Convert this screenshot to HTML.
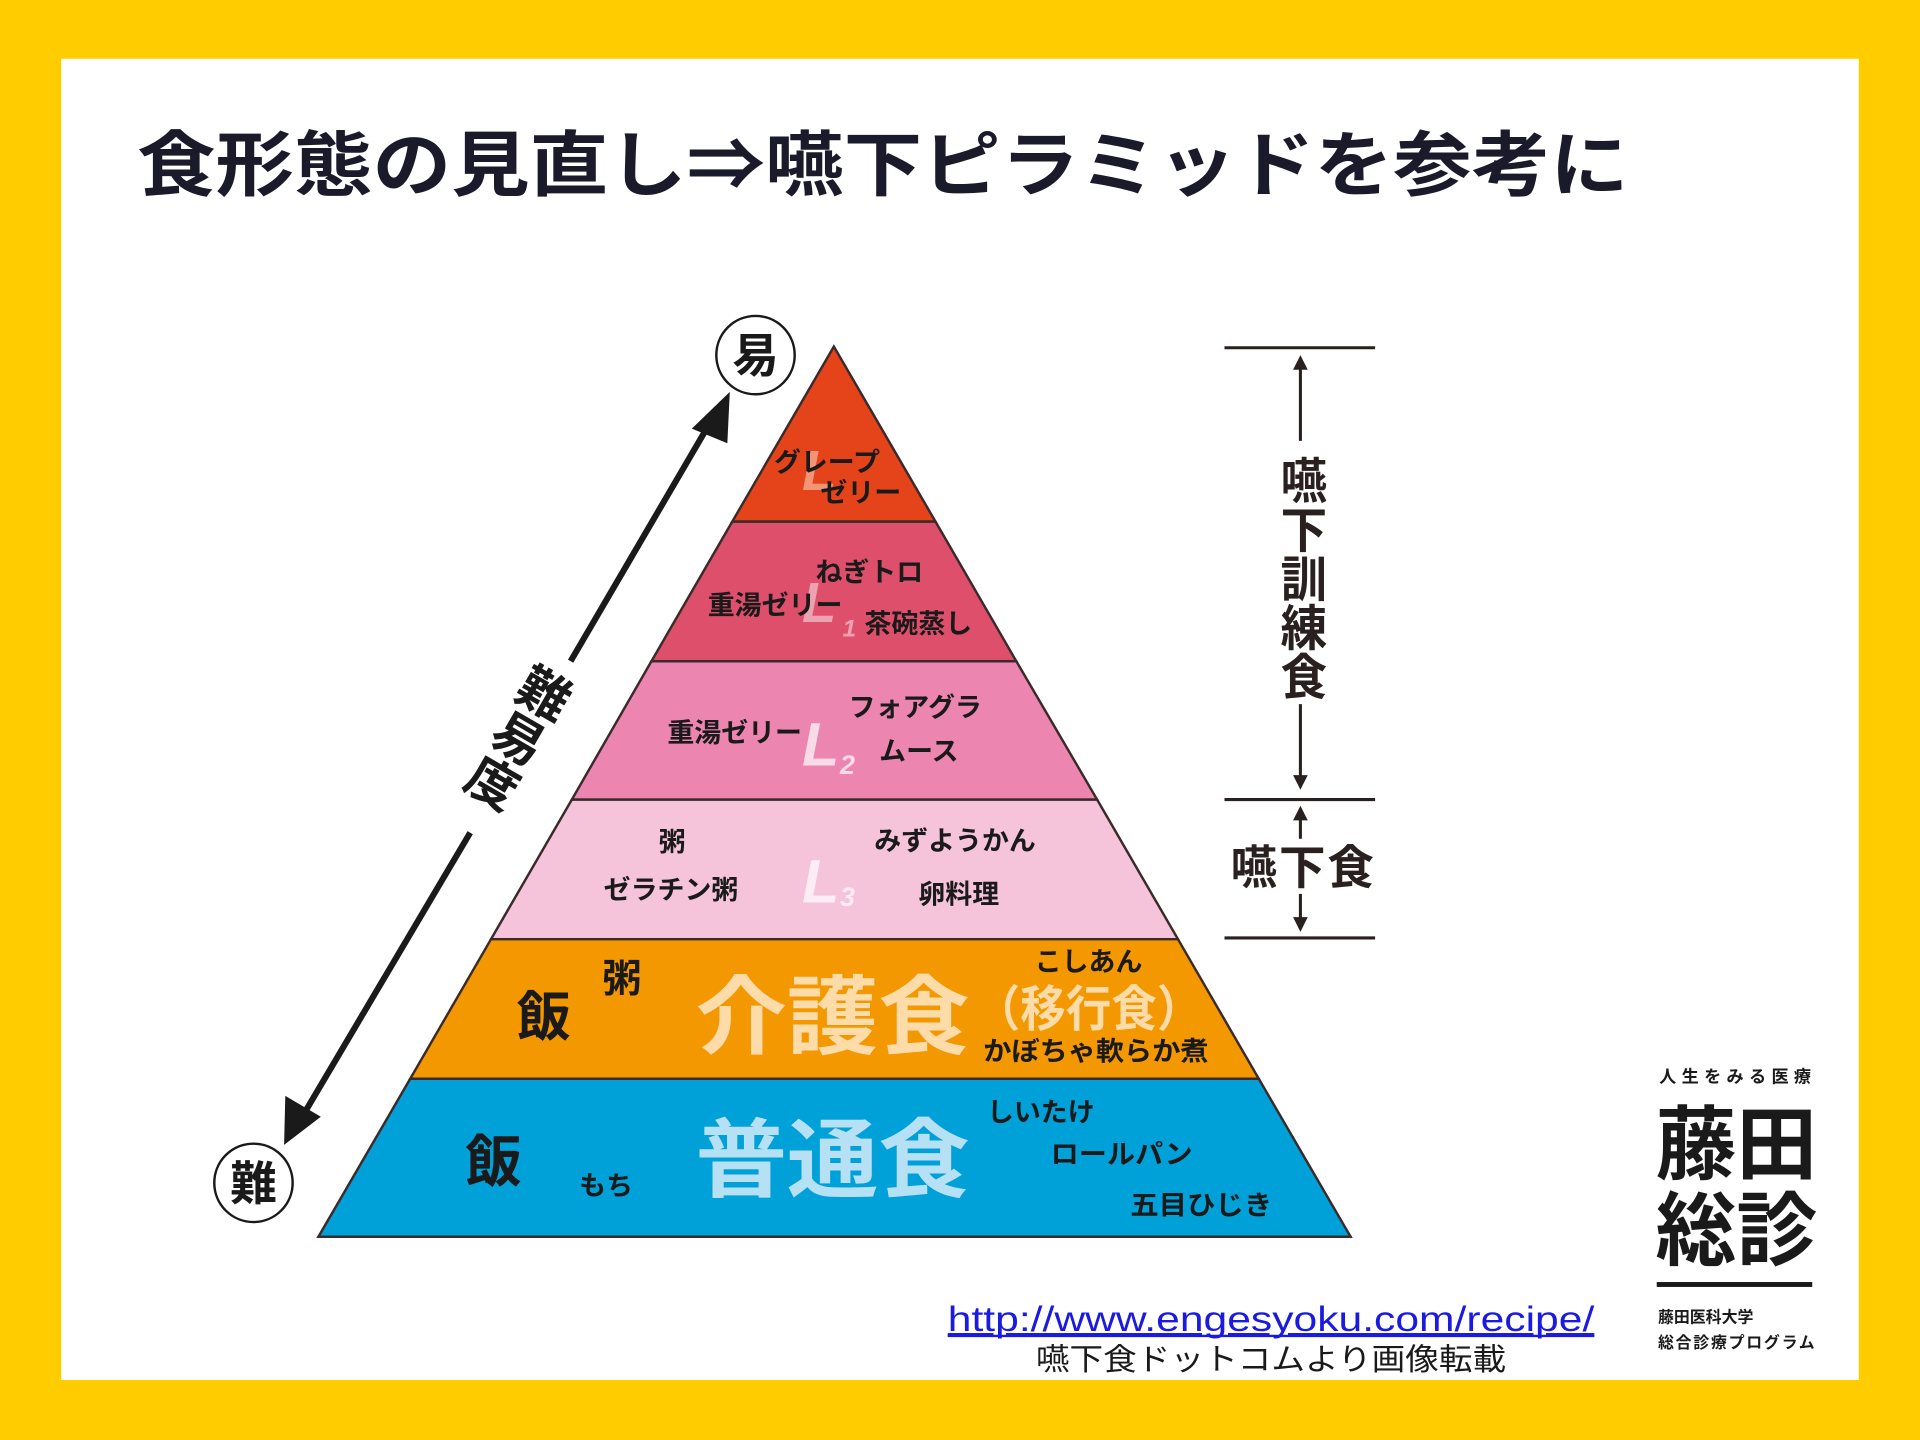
<!DOCTYPE html>
<html><head><meta charset="utf-8"><style>
html,body{margin:0;padding:0;background:#FFCC00;}
svg{display:block}
text{font-family:"Liberation Sans","Noto Sans CJK JP",sans-serif;}
</style></head><body>
<svg width="1920" height="1440" viewBox="0 0 1568 1176" xmlns="http://www.w3.org/2000/svg">
<rect x="0" y="0" width="1568" height="1176" fill="#FFCC00"/>
<rect x="50" y="48" width="1468" height="1079" fill="#fff"/>
<text x="112" y="155" font-size="58" font-weight="bold" fill="#1a1a2a" textLength="1218" lengthAdjust="spacingAndGlyphs">食形態の見直し⇒嚥下ピラミッドを参考に</text>

<g stroke="#3a2a2a" stroke-width="2">
<polygon points="681,283 598,426 764,426" fill="#E5431A"/>
<polygon points="598,426 764,426 830,540 532,540" fill="#DE4F6B"/>
<polygon points="532,540 830,540 896,653 467,653" fill="#EC86B1"/>
<polygon points="467,653 896,653 962,767 401,767" fill="#F5C4DA"/>
<polygon points="401,767 962,767 1028,881 335,881" fill="#F39800"/>
<polygon points="335,881 1028,881 1103,1010 260,1010" fill="#00A0D8"/>
</g>

<g fill="#fff" opacity="0.7" font-weight="bold" font-style="italic">
<text x="655" y="400" font-size="46" fill="#F7B89A">L</text>
<text x="655" y="508" font-size="46" fill="#F3C6CF">L</text><text x="688" y="520" font-size="20" fill="#F3C6CF">1</text>
<text x="655" y="625" font-size="50">L</text><text x="686" y="632" font-size="22">2</text>
<text x="655" y="737" font-size="50">L</text><text x="686" y="740" font-size="22">3</text>
</g>

<g font-weight="bold" fill="#1a1a1a" font-size="22">
<text x="632" y="385">グレープ</text>
<text x="670" y="410">ゼリー</text>
<text x="666" y="475">ねぎトロ</text>
<text x="578" y="502">重湯ゼリー</text>
<text x="706" y="517">茶碗蒸し</text>
<text x="545" y="606">重湯ゼリー</text>
<text x="693" y="585">フォアグラ</text>
<text x="718" y="621">ムース</text>
<text x="538" y="695">粥</text>
<text x="493" y="734">ゼラチン粥</text>
<text x="714" y="694">みずようかん</text>
<text x="750" y="738">卵料理</text>
<text x="845" y="793">こしあん</text>
<text x="803" y="866" textLength="184" lengthAdjust="spacingAndGlyphs">かぼちゃ軟らか煮</text>
<text x="806" y="916">しいたけ</text>
<text x="858" y="950" textLength="116" lengthAdjust="spacingAndGlyphs">ロールパン</text>
<text x="923" y="992" textLength="116" lengthAdjust="spacingAndGlyphs">五目ひじき</text>
<text x="473" y="976">もち</text>
<text x="492" y="810" font-size="32">粥</text>
<text x="422" y="846" font-size="44">飯</text>
<text x="380" y="965" font-size="46">飯</text>
</g>
<text x="568" y="855" font-size="70" font-weight="bold" fill="#FDDCAA" textLength="224" lengthAdjust="spacingAndGlyphs">介護食</text>
<text x="796" y="838" font-size="40" font-weight="bold" fill="#FDDCAA" textLength="186" lengthAdjust="spacingAndGlyphs">（移行食）</text>
<text x="568" y="972" font-size="70" font-weight="bold" fill="#B6E0F4" textLength="224" lengthAdjust="spacingAndGlyphs">普通食</text>

<g stroke="#1a1a1a" stroke-width="5" fill="#1a1a1a">
<line x1="466" y1="540" x2="580" y2="345"/>
<line x1="384" y1="680" x2="245" y2="915"/>
</g>
<polygon points="596,320 565,350 594,362" fill="#1a1a1a"/>
<polygon points="232,935 233,895 262,912" fill="#1a1a1a"/>
<g transform="translate(452,546) rotate(30)">
<text x="0" y="0" font-size="42" font-weight="bold" fill="#1a1a1a" writing-mode="tb">難易度</text>
</g>
<circle cx="617" cy="290" r="32" fill="#fff" stroke="#1a1a1a" stroke-width="2"/>
<text x="617" y="304" font-size="38" font-weight="bold" text-anchor="middle" fill="#1a1a1a">易</text>
<circle cx="207" cy="966" r="32" fill="#fff" stroke="#1a1a1a" stroke-width="2"/>
<text x="207" y="980" font-size="38" font-weight="bold" text-anchor="middle" fill="#1a1a1a">難</text>

<g stroke="#2a2020" stroke-width="2.5" fill="none">
<line x1="1000" y1="284" x2="1123" y2="284"/>
<line x1="1000" y1="653" x2="1123" y2="653"/>
<line x1="1000" y1="766" x2="1123" y2="766"/>
<line x1="1062" y1="295" x2="1062" y2="360"/>
<line x1="1062" y1="575" x2="1062" y2="640"/>
<line x1="1062" y1="664" x2="1062" y2="685"/>
<line x1="1062" y1="730" x2="1062" y2="755"/>
</g>
<g fill="#2a2020">
<polygon points="1062,290 1056,302 1068,302"/>
<polygon points="1062,645 1056,633 1068,633"/>
<polygon points="1062,658 1056,670 1068,670"/>
<polygon points="1062,761 1056,749 1068,749"/>
</g>
<text x="1062" y="372" font-size="38" font-weight="bold" fill="#2a2020" writing-mode="tb" textLength="200" lengthAdjust="spacingAndGlyphs">嚥下訓練食</text>
<text x="1005" y="722" font-size="38" font-weight="bold" fill="#2a2020" textLength="117" lengthAdjust="spacing">嚥下食</text>

<text x="774" y="1087" font-size="29" fill="#1a1ae0" text-decoration="underline" textLength="528" lengthAdjust="spacingAndGlyphs">http://www.engesyoku.com/recipe/</text>
<line x1="774" y1="1091" x2="1302" y2="1091" stroke="#1a1ae0" stroke-width="2"/>
<text x="1038" y="1119" font-size="25" fill="#1a1a1a" text-anchor="middle" textLength="384" lengthAdjust="spacingAndGlyphs">嚥下食ドットコムより画像転載</text>

<text x="1355" y="884" font-size="14" font-weight="bold" fill="#1a1a1a" textLength="124" lengthAdjust="spacing">人生をみる医療</text>
<text x="1352" y="958" font-size="66" font-weight="bold" fill="#1a1a1a" textLength="132" lengthAdjust="spacing">藤田</text>
<text x="1352" y="1028" font-size="66" font-weight="bold" fill="#1a1a1a" textLength="132" lengthAdjust="spacing">総診</text>
<rect x="1353" y="1047" width="127" height="4" fill="#1a1a1a"/>
<text x="1354" y="1080" font-size="13" font-weight="bold" fill="#1a1a1a">藤田医科大学</text>
<text x="1354" y="1101" font-size="13" font-weight="bold" fill="#1a1a1a" textLength="128" lengthAdjust="spacing">総合診療プログラム</text>
</svg>
</body></html>
